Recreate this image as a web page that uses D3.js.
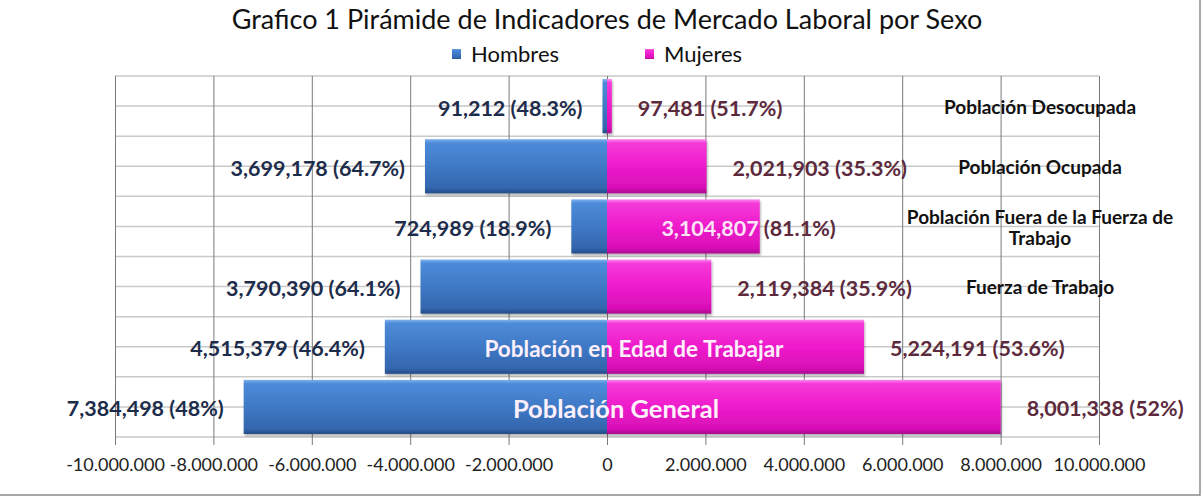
<!DOCTYPE html>
<html>
<head>
<meta charset="utf-8">
<script src="https://cdn.jsdelivr.net/npm/d3@7"></script>
<style>
  body { margin: 0; background: #fff; }
  svg { display: block; font-family: Lato, "Open Sans", sans-serif; }
</style>
</head>
<body>
<svg id="chart" width="1203" height="497"></svg>
<script>
const categories = [
  'Población Desocupada',
  'Población Ocupada',
  'Población Fuera de la Fuerza de Trabajo',
  'Fuerza de Trabajo',
  'Población en Edad de Trabajar',
  'Población General',
];
const hombres = [91212, 3699178, 724989, 3790390, 4515379, 7384498];
const mujeres = [97481, 2021903, 3104807, 2119384, 5224191, 8001338];
const hombresPct = ['48.3%', '64.7%', '18.9%', '64.1%', '46.4%', '48%'];
const mujeresPct = ['51.7%', '35.3%', '81.1%', '35.9%', '53.6%', '52%'];
const xTicks = [-10e6, -8e6, -6e6, -4e6, -2e6, 0, 2e6, 4e6, 6e6, 8e6, 10e6];

const title = 'Grafico 1 Pirámide de Indicadores de Mercado Laboral por Sexo';
const seriesNames = ['Hombres', 'Mujeres'];

// the last two categories are written inside their bars, the rest on the right
const insideLabels = ['Población en Edad de Trabajar', 'Población General'];
// row where the women label overlaps the end of its bar
const overlapLabel = 'Población Fuera de la Fuerza de Trabajo';

const plot = { left: 115, right: 1099, top: 76, bottom: 437 };

const svg = d3.select('#chart');
const defs = svg.append('defs');

function barGradient(id, stops) {
  const g = defs.append('linearGradient').attr('id', id)
    .attr('x1', 0).attr('y1', 0).attr('x2', 0).attr('y2', 1);
  stops.forEach(([o, c]) => g.append('stop').attr('offset', o).attr('stop-color', c));
}
barGradient('blue', [[0, '#7fb2ee'], [0.07, '#4d8bd8'], [0.5, '#3f79c6'], [0.9, '#3366ad'], [1, '#234c86']]);
barGradient('pink', [[0, '#fb8cec'], [0.07, '#f53ad9'], [0.5, '#ee1bcb'], [0.9, '#d80fb6'], [1, '#a90b8e']]);

defs.append('filter').attr('id', 'shadow')
  .attr('x', '-5%').attr('y', '-10%').attr('width', '110%').attr('height', '130%')
  .append('feDropShadow')
  .attr('dx', 1).attr('dy', 2).attr('stdDeviation', 1.2)
  .attr('flood-color', '#000').attr('flood-opacity', 0.3);

const x = d3.scaleLinear().domain([-10e6, 10e6]).range([plot.left, plot.right]);
const y = d3.scaleBand().domain(categories).range([plot.top, plot.bottom])
  .paddingInner(0.1).paddingOuter(0.05);

const tickFormat = d3.formatLocale({
  decimal: ',', thousands: '.', grouping: [3], currency: ['', ''], minus: '-',
}).format(',.0f');
const valueFormat = d3.format(',');

// chart frame
svg.append('rect')
  .attr('x', -1).attr('y', -1).attr('width', 1201).attr('height', 496)
  .attr('fill', 'none').attr('stroke', '#8a8a8a').attr('stroke-width', 1.5);

// title
svg.append('text')
  .attr('x', 607).attr('y', 29)
  .attr('text-anchor', 'middle')
  .attr('font-size', 27)
  .attr('fill', '#111')
  .text(title);

// legend
const legend = svg.append('g').attr('transform', 'translate(452,54)');
const legendX = [0, 193];
const legendFill = ['url(#blue)', 'url(#pink)'];
seriesNames.forEach((name, i) => {
  const item = legend.append('g').attr('transform', `translate(${legendX[i]},0)`);
  item.append('rect').attr('x', 0).attr('y', -5).attr('width', 9).attr('height', 10)
    .attr('fill', legendFill[i]);
  item.append('text').attr('x', 19).attr('y', 0)
    .attr('dy', '0.35em').attr('font-size', 22).attr('fill', '#111').text(name);
});

// horizontal gridlines: category boundaries and centres
const step = y.step();
const hLines = d3.range(categories.length * 2 + 1).map(k => plot.top + (k * step) / 2);
svg.append('g').selectAll('line').data(hLines).join('line')
  .attr('x1', plot.left).attr('x2', plot.right)
  .attr('y1', d => d).attr('y2', d => d)
  .attr('stroke', '#c9c9c9').attr('stroke-width', 1.5);

// x axis with gridlines reaching the top of the plot
const xAxis = svg.append('g')
  .attr('transform', `translate(0,${plot.bottom})`)
  .call(d3.axisBottom(x).tickValues(xTicks).tickFormat(tickFormat)
    .tickSizeInner(-(plot.bottom - plot.top)).tickSizeOuter(0).tickPadding(21));
xAxis.select('.domain').remove();
xAxis.selectAll('.tick line')
  .attr('stroke', '#7a7a7a')
  .attr('y2', -(plot.bottom - plot.top))
  .attr('y1', 8);
xAxis.selectAll('.tick text')
  .attr('font-family', 'Lato, sans-serif')
  .attr('font-size', 18)
  .attr('fill', '#222');

// bars
const rows = categories.map((c, i) => ({
  cat: c, h: hombres[i], m: mujeres[i], hp: hombresPct[i], mp: mujeresPct[i],
}));

const bars = svg.append('g').attr('filter', 'url(#shadow)');
bars.selectAll('rect.h').data(rows).join('rect')
  .attr('class', 'h')
  .attr('x', d => x(-d.h)).attr('width', d => x(0) - x(-d.h))
  .attr('y', d => y(d.cat)).attr('height', y.bandwidth())
  .attr('fill', 'url(#blue)');
bars.selectAll('rect.m').data(rows).join('rect')
  .attr('class', 'm')
  .attr('x', x(0)).attr('width', d => x(d.m) - x(0))
  .attr('y', d => y(d.cat)).attr('height', y.bandwidth())
  .attr('fill', 'url(#pink)');

const mid = d => y(d.cat) + y.bandwidth() / 2 + 2;

// value labels
const labels = svg.append('g').attr('font-weight', 700).attr('font-size', 21.5);
labels.selectAll('text.h').data(rows).join('text')
  .attr('class', 'h')
  .attr('x', d => x(-d.h) - 20).attr('y', mid).attr('dy', '0.35em')
  .attr('text-anchor', 'end').attr('fill', '#1d2c4b')
  .text(d => `${valueFormat(d.h)} (${d.hp})`);

labels.selectAll('text.m').data(rows).join('text')
  .attr('class', 'm')
  .each(function (d) {
    const t = d3.select(this).attr('y', mid(d)).attr('dy', '0.35em').attr('fill', '#5c2a3c');
    if (d.cat === overlapLabel) {
      t.attr('x', x(d.m) - 1).attr('text-anchor', 'end')
        .append('tspan').attr('fill', '#fbe4f6').text(valueFormat(d.m));
      labels.append('text').attr('x', x(d.m) + 4).attr('y', mid(d)).attr('dy', '0.35em')
        .attr('fill', '#5c2a3c').text(`(${d.mp})`);
    } else {
      t.attr('x', x(d.m) + 26).text(`${valueFormat(d.m)} (${d.mp})`);
    }
  });

// category names
function wrap(text, width) {
  text.each(function () {
    const t = d3.select(this);
    const words = t.text().split(/\s+/);
    const lines = [];
    let line = [];
    t.text(null);
    const probe = t.append('tspan');
    words.forEach(w => {
      line.push(w);
      probe.text(line.join(' '));
      if (probe.node().getComputedTextLength() > width && line.length > 1) {
        line.pop();
        lines.push(line.join(' '));
        line = [w];
      }
    });
    lines.push(line.join(' '));
    probe.remove();
    const y0 = +t.attr('y');
    const lh = 21;
    lines.forEach((l, i) => {
      t.append('tspan').attr('x', t.attr('x'))
        .attr('y', y0 + (i - (lines.length - 1) / 2) * lh)
        .attr('dy', '0.35em').text(l);
    });
  });
}

svg.append('g').selectAll('text')
  .data(rows.filter(d => !insideLabels.includes(d.cat)))
  .join('text')
  .attr('x', 1040).attr('y', d => mid(d) - 1)
  .attr('text-anchor', 'middle')
  .attr('font-weight', 700).attr('font-size', 19).attr('fill', '#111')
  .text(d => d.cat)
  .call(wrap, 300);

const insideSize = [22.5, 25.5];
const insideDx = [27, 9];
svg.append('g').selectAll('text')
  .data(rows.filter(d => insideLabels.includes(d.cat)))
  .join('text')
  .attr('x', (d, i) => x(0) + insideDx[i]).attr('y', d => mid(d))
  .attr('dy', '0.35em')
  .attr('text-anchor', 'middle')
  .attr('font-weight', 700).attr('font-size', (d, i) => insideSize[i]).attr('fill', '#fdf0fb')
  .text(d => d.cat);
</script>
</body>
</html>
